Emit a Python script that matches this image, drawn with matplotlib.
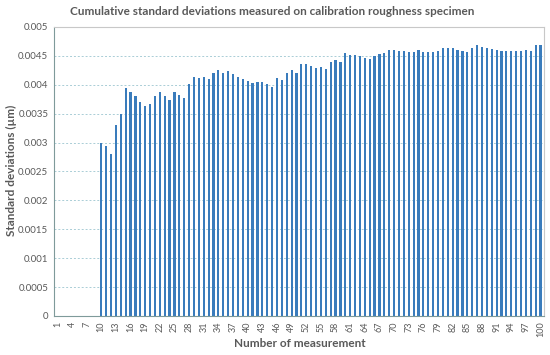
#!/usr/bin/env python3
"""
Cumulative standard deviations bar chart (calibration roughness specimen)
"""

import matplotlib
matplotlib.use('Agg')
import matplotlib.pyplot as plt
import numpy as np

# measurement numbers 10..100 (1..9 have no value)
measurements = list(range(10, 101))
std_devs = [
    0.00300, 0.00294, 0.00281, 0.00331, 0.00349, 0.00395, 0.00388, 0.00380, 0.00371, 0.00363,  # 10-19
    0.00367, 0.00381, 0.00387, 0.00380, 0.00374, 0.00388, 0.00382, 0.00377, 0.00401, 0.00414,  # 20-29
    0.00412, 0.00414, 0.00410, 0.00421, 0.00426, 0.00420, 0.00424, 0.00419, 0.00414, 0.00410,  # 30-39
    0.00407, 0.00403, 0.00404, 0.00405, 0.00401, 0.00397, 0.00412, 0.00408, 0.00420, 0.00426,  # 40-49
    0.00421, 0.00436, 0.00436, 0.00433, 0.00429, 0.00430, 0.00427, 0.00439, 0.00443, 0.00440,  # 50-59
    0.00455, 0.00452, 0.00451, 0.00450, 0.00446, 0.00445, 0.00450, 0.00453, 0.00455, 0.00460,  # 60-69
    0.00460, 0.00458, 0.00459, 0.00456, 0.00456, 0.00460, 0.00457, 0.00456, 0.00456, 0.00458,  # 70-79
    0.00464, 0.00464, 0.00463, 0.00461, 0.00459, 0.00456, 0.00464, 0.00469, 0.00466, 0.00464,  # 80-89
    0.00462, 0.00460, 0.00459, 0.00458, 0.00458, 0.00458, 0.00458, 0.00460, 0.00458, 0.00469,  # 90-99
    0.00469,                                                                                    # 100
]
x_ticks = list(range(1, 101, 3))
y_ticks = [0, 0.0005, 0.001, 0.0015, 0.002, 0.0025, 0.003, 0.0035, 0.004, 0.0045, 0.005]

plt.rcParams['font.family'] = ['Lato', 'DejaVu Sans']
text_color = '#595959'

fig = plt.figure(figsize=(5.5, 3.55), dpi=100)
ax = fig.add_axes([0.098, 0.110, 0.891, 0.814])

ax.bar(measurements, std_devs, width=0.45, color='#3a7cbc', zorder=2)

ax.set_xlim(0.3, 100.7)
ax.set_ylim(0, 0.005)
ax.set_yticks(y_ticks)
ax.set_yticklabels(['0' if v == 0 else f'{v:g}' for v in y_ticks], fontsize=7, color=text_color)
ax.set_xticks(x_ticks)
ax.set_xticklabels([str(v) for v in x_ticks], rotation=90, fontsize=6.5, color=text_color)
ax.tick_params(axis='both', length=0, pad=4)

ax.grid(axis='y', color='#a9cdd6', linestyle=(0, (2, 2)), linewidth=0.7, zorder=0)

for side in ['top', 'right']:
    ax.spines[side].set_color('#c8c8c8')
    ax.spines[side].set_linewidth(0.8)
for side in ['left', 'bottom']:
    ax.spines[side].set_color('#7f9a9a')
    ax.spines[side].set_linewidth(0.8)

fig.text(0.495, 0.968, 'Cumulative standard deviations measured on calibration roughness specimen',
         ha='center', va='center', fontsize=8.5, fontweight='bold', color=text_color)
fig.text(0.545, 0.033, 'Number of measurement', ha='center', va='center',
         fontsize=8.5, fontweight='bold', color=text_color)
fig.text(0.020, 0.52, 'Standard deviations (\u00b5m)', ha='center', va='center', rotation=90,
         fontsize=8.5, fontweight='bold', color=text_color)

fig.savefig('out.png', dpi=100)
plt.close(fig)
